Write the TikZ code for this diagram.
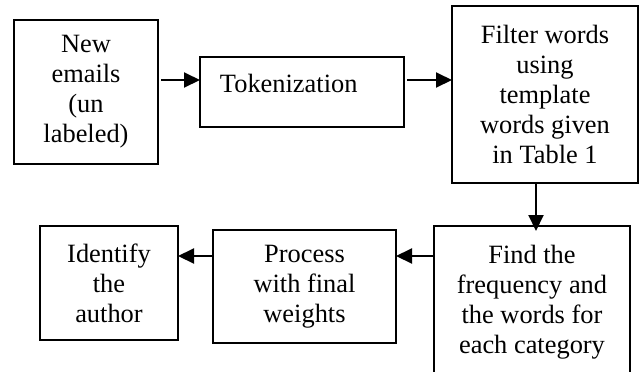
\documentclass[tikz,border=0pt]{standalone}
\usepackage{fontspec}
\setmainfont{Liberation Serif}
\usetikzlibrary{arrows.meta,positioning}
\tikzset{
  stepbox/.style={draw, line width=1pt, align=center, inner sep=0pt, outer sep=0pt,
        font=\fontsize{13.2}{15}\selectfont},
  flow/.style={-{Triangle[length=8pt,width=7.5pt]}, line width=1pt},
}
\begin{document}
\begin{tikzpicture}[x=0.5pt, y=-0.5pt, node distance=20pt and 20pt]
  \useasboundingbox (0,0) rectangle (644,371);
  \node[stepbox, minimum width=72pt, minimum height=72pt] (mail) at (86,92)
        {New\\emails\\(un\\labeled)};
  \node[stepbox, right=21pt of mail, minimum width=102pt, minimum height=35pt,
        text width=82pt, inner xsep=10pt, align=left, text height=6pt, text depth=6pt]
        (tok) {Tokenization};
  \node[stepbox, right=24pt of tok, yshift=-1.25pt, minimum width=93pt, minimum height=88.5pt]
        (filt) {Filter words\\using\\template\\words given\\in Table 1};
  \node[stepbox, below=21.5pt of filt, xshift=-6.5pt, minimum width=98pt, minimum height=76pt]
        (find) {Find the\\frequency and\\the words for\\each category};
  \node[stepbox, left=19pt of find, yshift=7.75pt, minimum width=91.5pt, minimum height=56.5pt]
        (proc) {Process\\with final\\weights};
  \node[stepbox, left=17.5pt of proc, yshift=1.75pt, minimum width=69pt, minimum height=57pt]
        (ident) {Identify\\the\\author};
  % connectors
  \draw[flow, shorten <=1.5pt] ([yshift=6pt]mail.east) -- ([yshift=6pt]mail.east -| tok.west);
  \draw[flow, shorten <=1.5pt] ([yshift=6pt]tok.east) -- ([yshift=6pt]tok.east -| filt.west);
  \draw[flow, shorten >=-2.5pt] ([xshift=-4.5pt]filt.south) -- ([xshift=-4.5pt]filt.south |- find.north);
  \draw[flow] ([yshift=23pt]find.west) -- ([yshift=23pt]find.west -| proc.east);
  \draw[flow] ([yshift=23pt]find.west -| proc.west) -- ([yshift=23pt]find.west -| ident.east);
\end{tikzpicture}
\end{document}
